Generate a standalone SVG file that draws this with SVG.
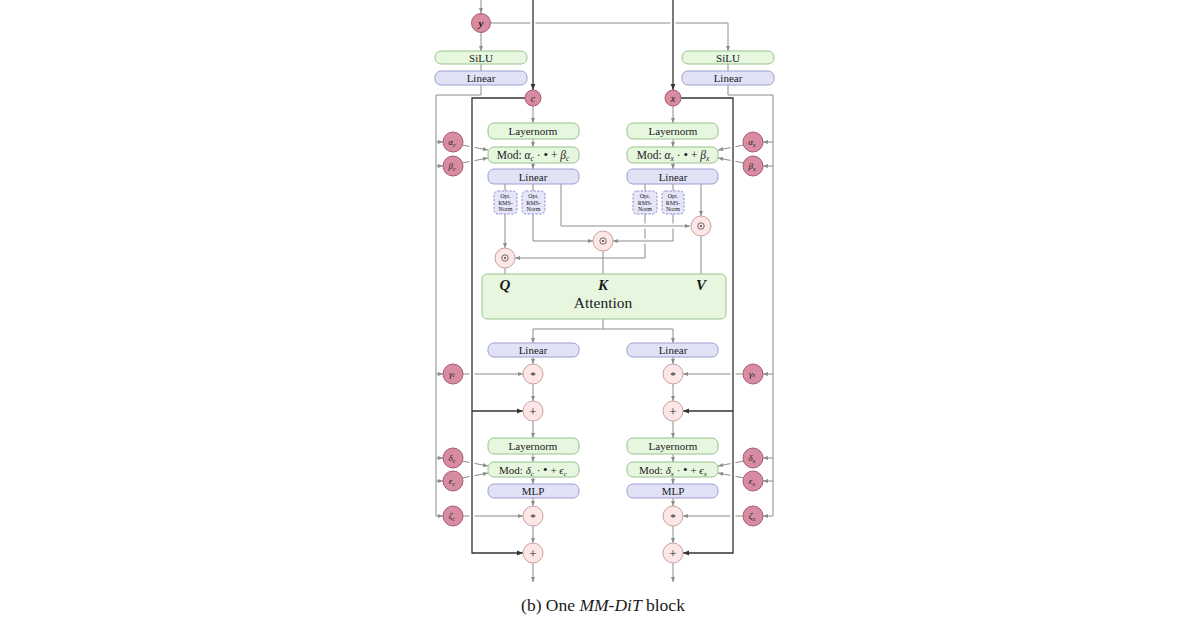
<svg xmlns="http://www.w3.org/2000/svg" width="1200" height="630" viewBox="0 0 1200 630">
<style>
text{font-family:"Liberation Serif","DejaVu Serif",serif;fill:#1a1a1a;text-anchor:middle}
.g{fill:#e6f6df;stroke:#97c48b;stroke-width:1}
.b{fill:#e2e2f7;stroke:#9d9dd2;stroke-width:1}
.o{fill:#e6e6f8;stroke:#8b8bd0;stroke-width:1;stroke-dasharray:2.2 1.6}
.dp{fill:#d78ca1;stroke:#a85a75;stroke-width:1}
.lp{fill:#fce6e6;stroke:#c9a1a3;stroke-width:1}
.gl{fill:none;stroke:#8c8c8c;stroke-width:1}
.dl{fill:none;stroke:#333;stroke-width:1.3}
.halo{fill:none;stroke:#fff;stroke-width:5}
.ga{marker-end:url(#ag)}
.da{marker-end:url(#ad)}
.lb{font-size:11px}
.sm{font-size:6px}
.it{font-style:italic}
.bu{font-size:13px}
</style>
<defs>
<marker id="ag" viewBox="0 0 6 6" refX="6" refY="3" markerWidth="5" markerHeight="5" orient="auto" markerUnits="userSpaceOnUse"><path d="M0,0.6 L6,3 L0,5.4 z" fill="#8c8c8c"/></marker>
<marker id="ad" viewBox="0 0 6 6" refX="6" refY="3" markerWidth="6" markerHeight="6" orient="auto" markerUnits="userSpaceOnUse"><path d="M0,0.6 L6,3 L0,5.4 z" fill="#333"/></marker>
</defs>
<rect width="1200" height="630" fill="#fff"/>

<g id="connectors">
<path class="gl ga" d="M481,0 V13"/>
<path class="gl ga" d="M481,32 V51"/>
<path class="gl ga" d="M490,23 H728 V51"/>
<path class="gl" d="M481,64 V71"/>
<path class="gl" d="M728,64 V71"/>
<line class="halo" x1="533" y1="0" x2="533" y2="88"/>
<line class="halo" x1="673" y1="0" x2="673" y2="88"/>
<path class="dl da" d="M533,0 V90"/>
<path class="dl da" d="M673,0 V90"/>
<path class="gl ga" d="M481,85 V95 H436 V516 H443"/>
<path class="gl ga" d="M436,142 H443"/>
<path class="gl ga" d="M436,166 H443"/>
<path class="gl ga" d="M436,374 H443"/>
<path class="gl ga" d="M436,458 H443"/>
<path class="gl ga" d="M436,481 H443"/>
<path class="gl ga" d="M728,85 V95 H773 V516 H763"/>
<path class="gl ga" d="M773,142 H763"/>
<path class="gl ga" d="M773,166 H763"/>
<path class="gl ga" d="M773,374 H763"/>
<path class="gl ga" d="M773,458 H763"/>
<path class="gl ga" d="M773,481 H763"/>
<path class="gl ga" d="M462,145 L488,150"/>
<path class="gl ga" d="M462,163 L488,158"/>
<path class="gl ga" d="M463,374 H523"/>
<path class="gl ga" d="M462,461 L488,466"/>
<path class="gl ga" d="M462,478 L488,473"/>
<path class="gl ga" d="M463,516 H523"/>
<path class="gl ga" d="M744,145 L718,150"/>
<path class="gl ga" d="M744,163 L718,158"/>
<path class="gl ga" d="M743,374 H683"/>
<path class="gl ga" d="M744,461 L718,466"/>
<path class="gl ga" d="M744,478 L718,473"/>
<path class="gl ga" d="M743,516 H683"/>
<line class="halo" x1="472" y1="102" x2="472" y2="549"/>
<line class="halo" x1="733" y1="102" x2="733" y2="549"/>
<path class="dl da" d="M525,98 H472 V553 H523"/>
<path class="dl da" d="M472,411 H523"/>
<path class="dl da" d="M681,98 H733 V553 H683"/>
<path class="dl da" d="M733,411 H683"/>
<path class="gl ga" d="M533,106 V123"/>
<path class="gl ga" d="M533,139 V147"/>
<path class="gl ga" d="M533,163 V169"/>
<path class="gl ga" d="M673,106 V123"/>
<path class="gl ga" d="M673,139 V147"/>
<path class="gl ga" d="M673,163 V169"/>
<path class="gl" d="M505,184 V191"/>
<path class="gl ga" d="M505,214 V248"/>
<path class="gl" d="M533,184 V191"/>
<path class="gl ga" d="M533,214 V241 H593"/>
<path class="gl" d="M645,184 V191"/>
<path class="gl ga" d="M645,214 V258 H515"/>
<path class="gl" d="M673,184 V191"/>
<path class="gl" d="M673,214 V241"/>
<line class="halo" x1="638" y1="241" x2="652" y2="241"/>
<line class="halo" x1="636" y1="226" x2="684" y2="226"/>
<path class="gl ga" d="M673,241 H613"/>
<path class="gl ga" d="M561,184 V226 H690"/>
<path class="gl ga" d="M701,184 V216"/>
<path class="gl" d="M505,268 V274"/>
<path class="gl" d="M603,251 V274"/>
<path class="gl" d="M701,236 V274"/>
<path class="gl" d="M603,319 V329"/>
<path class="gl ga" d="M603,329 H533 V343"/>
<path class="gl ga" d="M603,329 H673 V343"/>
<path class="gl ga" d="M533,357 V364"/>
<path class="gl ga" d="M533,384 V401"/>
<path class="gl ga" d="M533,421 V438"/>
<path class="gl ga" d="M533,454 V462"/>
<path class="gl ga" d="M533,477 V484"/>
<path class="gl ga" d="M533,498 V506"/>
<path class="gl ga" d="M533,526 V543"/>
<path class="gl ga" d="M533,563 V582"/>
<path class="gl ga" d="M673,357 V364"/>
<path class="gl ga" d="M673,384 V401"/>
<path class="gl ga" d="M673,421 V438"/>
<path class="gl ga" d="M673,454 V462"/>
<path class="gl ga" d="M673,477 V484"/>
<path class="gl ga" d="M673,498 V506"/>
<path class="gl ga" d="M673,526 V543"/>
<path class="gl ga" d="M673,563 V582"/>
</g>

<g id="node-y"><circle class="dp" cx="481" cy="23" r="9.5"/><text class="it" x="481" y="27" font-size="11" font-weight="bold">y</text></g>
<g id="node-c"><circle class="dp" cx="533" cy="98" r="8"/><text class="it" x="533" y="101.5" font-size="10">c</text></g>
<g id="node-x"><circle class="dp" cx="673" cy="98" r="8"/><text class="it" x="673" y="101.5" font-size="10">x</text></g>

<g id="silu-c"><rect class="g" x="435" y="51" width="92" height="13" rx="6"/><text class="lb" x="481" y="61.5">SiLU</text></g>
<g id="linear-yc"><rect class="b" x="435" y="71" width="92" height="14" rx="6"/><text class="lb" x="481" y="82">Linear</text></g>
<g id="silu-x"><rect class="g" x="682" y="51" width="92" height="13" rx="6"/><text class="lb" x="728" y="61.5">SiLU</text></g>
<g id="linear-yx"><rect class="b" x="682" y="71" width="92" height="14" rx="6"/><text class="lb" x="728" y="82">Linear</text></g>

<g id="alpha-c"><circle class="dp" cx="453" cy="142" r="10"/><text x="452" y="145" font-size="9" class="it">α<tspan font-size="6" dy="1.5">c</tspan></text></g>
<g id="beta-c"><circle class="dp" cx="453" cy="166" r="10"/><text x="452" y="169" font-size="9" class="it">β<tspan font-size="6" dy="1.5">c</tspan></text></g>
<g id="gamma-c"><circle class="dp" cx="453" cy="374" r="10"/><text x="452" y="377" font-size="9" class="it">γ<tspan font-size="6">c</tspan></text></g>
<g id="delta-c"><circle class="dp" cx="453" cy="458" r="10"/><text x="452" y="461" font-size="9" class="it">δ<tspan font-size="6" dy="1.5">c</tspan></text></g>
<g id="eps-c"><circle class="dp" cx="453" cy="481" r="10"/><text x="452" y="484" font-size="9" class="it">ϵ<tspan font-size="6" dy="1.5">c</tspan></text></g>
<g id="zeta-c"><circle class="dp" cx="453" cy="516" r="10"/><text x="452" y="519" font-size="9" class="it">ζ<tspan font-size="6" dy="1.5">c</tspan></text></g>
<g id="alpha-x"><circle class="dp" cx="753" cy="142" r="10"/><text x="752" y="145" font-size="9" class="it">α<tspan font-size="6" dy="1.5">x</tspan></text></g>
<g id="beta-x"><circle class="dp" cx="753" cy="166" r="10"/><text x="752" y="169" font-size="9" class="it">β<tspan font-size="6" dy="1.5">x</tspan></text></g>
<g id="gamma-x"><circle class="dp" cx="753" cy="374" r="10"/><text x="752" y="377" font-size="9" class="it">γ<tspan font-size="6">x</tspan></text></g>
<g id="delta-x"><circle class="dp" cx="753" cy="458" r="10"/><text x="752" y="461" font-size="9" class="it">δ<tspan font-size="6" dy="1.5">x</tspan></text></g>
<g id="eps-x"><circle class="dp" cx="753" cy="481" r="10"/><text x="752" y="484" font-size="9" class="it">ϵ<tspan font-size="6" dy="1.5">x</tspan></text></g>
<g id="zeta-x"><circle class="dp" cx="753" cy="516" r="10"/><text x="752" y="519" font-size="9" class="it">ζ<tspan font-size="6" dy="1.5">x</tspan></text></g>

<g id="ln1-c"><rect class="g" x="488" y="123" width="91" height="16" rx="6"/><text class="lb" x="533" y="135">Layernorm</text></g>
<g id="mod1-c"><rect class="g" x="488" y="147" width="91" height="16" rx="6"/><text x="533" y="159" font-size="11.5">Mod: <tspan class="it">α</tspan><tspan class="it" font-size="7.5" dy="2">c</tspan><tspan dy="-2"> · </tspan><tspan class="bu">•</tspan><tspan> + </tspan><tspan class="it">β</tspan><tspan class="it" font-size="7.5" dy="2">c</tspan></text></g>
<g id="lin1-c"><rect class="b" x="488" y="169" width="91" height="15" rx="6"/><text class="lb" x="533" y="180.5">Linear</text></g>
<g id="rms-qc"><rect class="o" x="494" y="191" width="23" height="23" rx="4"/><text class="sm" x="505.5" y="198">Opt.</text><text class="sm" x="505.5" y="204.5">RMS-</text><text class="sm" x="505.5" y="211">Norm</text></g>
<g id="rms-kc"><rect class="o" x="522" y="191" width="23" height="23" rx="4"/><text class="sm" x="533.5" y="198">Opt.</text><text class="sm" x="533.5" y="204.5">RMS-</text><text class="sm" x="533.5" y="211">Norm</text></g>

<g id="ln1-x"><rect class="g" x="627" y="123" width="91" height="16" rx="6"/><text class="lb" x="673" y="135">Layernorm</text></g>
<g id="mod1-x"><rect class="g" x="627" y="147" width="91" height="16" rx="6"/><text x="673" y="159" font-size="11.5">Mod: <tspan class="it">α</tspan><tspan class="it" font-size="7.5" dy="2">x</tspan><tspan dy="-2"> · </tspan><tspan class="bu">•</tspan><tspan> + </tspan><tspan class="it">β</tspan><tspan class="it" font-size="7.5" dy="2">x</tspan></text></g>
<g id="lin1-x"><rect class="b" x="627" y="169" width="91" height="15" rx="6"/><text class="lb" x="673" y="180.5">Linear</text></g>
<g id="rms-qx"><rect class="o" x="633" y="191" width="24" height="23" rx="4"/><text class="sm" x="645" y="198">Opt.</text><text class="sm" x="645" y="204.5">RMS-</text><text class="sm" x="645" y="211">Norm</text></g>
<g id="rms-kx"><rect class="o" x="662" y="191" width="22" height="23" rx="4"/><text class="sm" x="673" y="198">Opt.</text><text class="sm" x="673" y="204.5">RMS-</text><text class="sm" x="673" y="211">Norm</text></g>

<g id="cat-q"><circle class="lp" cx="505" cy="258" r="10"/><circle cx="505" cy="258" r="3.2" fill="none" stroke="#333" stroke-width="0.7"/><circle cx="505" cy="258" r="0.9" fill="#333"/></g>
<g id="cat-k"><circle class="lp" cx="603" cy="241" r="10"/><circle cx="603" cy="241" r="3.2" fill="none" stroke="#333" stroke-width="0.7"/><circle cx="603" cy="241" r="0.9" fill="#333"/></g>
<g id="cat-v"><circle class="lp" cx="701" cy="226" r="10"/><circle cx="701" cy="226" r="3.2" fill="none" stroke="#333" stroke-width="0.7"/><circle cx="701" cy="226" r="0.9" fill="#333"/></g>

<g id="attention"><rect class="g" x="482" y="274" width="244" height="45" rx="5"/>
<text x="505" y="290" font-size="15" font-style="italic" font-weight="bold">Q</text>
<text x="603" y="290" font-size="15" font-style="italic" font-weight="bold">K</text>
<text x="701" y="290" font-size="15" font-style="italic" font-weight="bold">V</text>
<text x="603" y="308" font-size="15.5">Attention</text></g>

<g id="lin2-c"><rect class="b" x="488" y="343" width="91" height="14" rx="6"/><text class="lb" x="533" y="354">Linear</text></g>
<g id="mul1-c"><circle class="lp" cx="533" cy="374" r="10"/><text x="533" y="379" font-size="11">*</text></g>
<g id="add1-c"><circle class="lp" cx="533" cy="411" r="10"/><text x="533" y="415.5" font-size="13">+</text></g>
<g id="ln2-c"><rect class="g" x="488" y="438" width="91" height="16" rx="6"/><text class="lb" x="533" y="450">Layernorm</text></g>
<g id="mod2-c"><rect class="g" x="488" y="462" width="91" height="15" rx="6"/><text x="533" y="473.5" font-size="11">Mod: <tspan class="it">δ</tspan><tspan class="it" font-size="7" dy="2">c</tspan><tspan dy="-2"> · </tspan><tspan class="bu">•</tspan><tspan> + </tspan><tspan class="it">ϵ</tspan><tspan class="it" font-size="7" dy="2">c</tspan></text></g>
<g id="mlp-c"><rect class="b" x="488" y="484" width="91" height="14" rx="6"/><text class="lb" x="533" y="495">MLP</text></g>
<g id="mul2-c"><circle class="lp" cx="533" cy="516" r="10"/><text x="533" y="521" font-size="11">*</text></g>
<g id="add2-c"><circle class="lp" cx="533" cy="553" r="10"/><text x="533" y="557.5" font-size="13">+</text></g>

<g id="lin2-x"><rect class="b" x="627" y="343" width="91" height="14" rx="6"/><text class="lb" x="673" y="354">Linear</text></g>
<g id="mul1-x"><circle class="lp" cx="673" cy="374" r="10"/><text x="673" y="379" font-size="11">*</text></g>
<g id="add1-x"><circle class="lp" cx="673" cy="411" r="10"/><text x="673" y="415.5" font-size="13">+</text></g>
<g id="ln2-x"><rect class="g" x="627" y="438" width="91" height="16" rx="6"/><text class="lb" x="673" y="450">Layernorm</text></g>
<g id="mod2-x"><rect class="g" x="627" y="462" width="91" height="15" rx="6"/><text x="673" y="473.5" font-size="11">Mod: <tspan class="it">δ</tspan><tspan class="it" font-size="7" dy="2">x</tspan><tspan dy="-2"> · </tspan><tspan class="bu">•</tspan><tspan> + </tspan><tspan class="it">ϵ</tspan><tspan class="it" font-size="7" dy="2">x</tspan></text></g>
<g id="mlp-x"><rect class="b" x="627" y="484" width="91" height="14" rx="6"/><text class="lb" x="673" y="495">MLP</text></g>
<g id="mul2-x"><circle class="lp" cx="673" cy="516" r="10"/><text x="673" y="521" font-size="11">*</text></g>
<g id="add2-x"><circle class="lp" cx="673" cy="553" r="10"/><text x="673" y="557.5" font-size="13">+</text></g>

<text x="603" y="611" font-size="17.5">(b) One <tspan class="it">MM-DiT</tspan> block</text>
</svg>
